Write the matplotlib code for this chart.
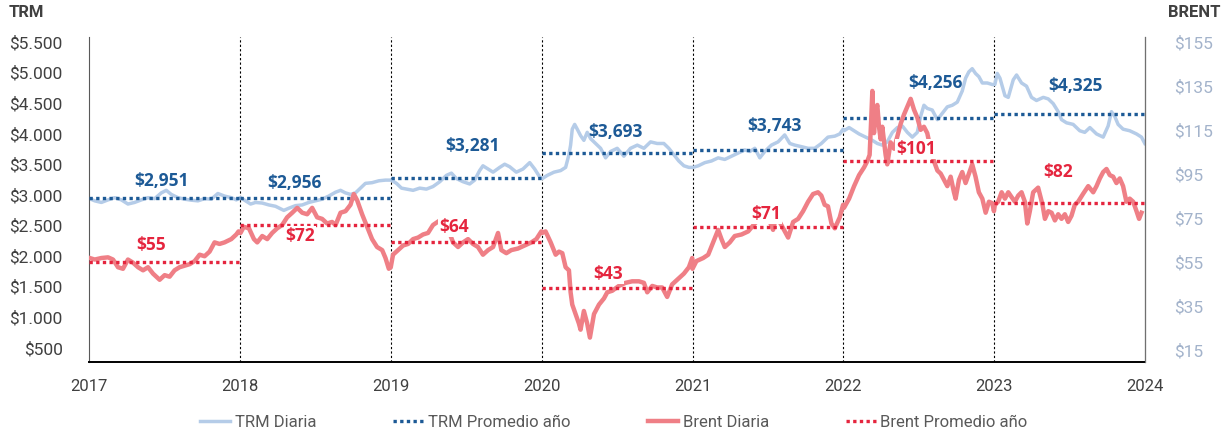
import matplotlib
matplotlib.use("Agg")
import matplotlib.pyplot as plt
from matplotlib.lines import Line2D

# TRM diaria (COP por USD), fecha en año decimal
trm_x = [
    2017.004, 2017.038, 2017.082, 2017.126, 2017.170, 2017.214, 2017.258, 2017.302,
    2017.347, 2017.391, 2017.435, 2017.479, 2017.512, 2017.545, 2017.589, 2017.634,
    2017.678, 2017.722, 2017.766, 2017.810, 2017.854, 2017.898, 2017.943, 2017.976,
    2018.004, 2018.038, 2018.071, 2018.104, 2018.148, 2018.192, 2018.236, 2018.269,
    2018.291, 2018.325, 2018.369, 2018.413, 2018.457, 2018.501, 2018.545, 2018.589,
    2018.634, 2018.667, 2018.700, 2018.733, 2018.766, 2018.799, 2018.832, 2018.876,
    2018.921, 2018.965,
    2019.004, 2019.038, 2019.071, 2019.104, 2019.148, 2019.192, 2019.236, 2019.280,
    2019.325, 2019.369, 2019.402, 2019.435, 2019.479, 2019.523, 2019.556, 2019.589,
    2019.611, 2019.645, 2019.678, 2019.722, 2019.755, 2019.788, 2019.832, 2019.876,
    2019.921, 2019.954, 2019.987,
    2020.004, 2020.038, 2020.082, 2020.126, 2020.159, 2020.181, 2020.192, 2020.203,
    2020.219, 2020.236, 2020.258, 2020.280, 2020.302, 2020.325, 2020.358, 2020.391,
    2020.424, 2020.457, 2020.501, 2020.545, 2020.589, 2020.634, 2020.678, 2020.722,
    2020.766, 2020.810, 2020.843, 2020.876, 2020.909, 2020.943, 2020.976, 2020.998,
    2021.004, 2021.038, 2021.082, 2021.126, 2021.170, 2021.214, 2021.258, 2021.302,
    2021.347, 2021.380, 2021.413, 2021.446, 2021.479, 2021.523, 2021.567, 2021.611,
    2021.645, 2021.678, 2021.722, 2021.766, 2021.810, 2021.854, 2021.898, 2021.943,
    2021.976, 2021.998,
    2022.004, 2022.038, 2022.071, 2022.104, 2022.148, 2022.192, 2022.225, 2022.258,
    2022.291, 2022.325, 2022.358, 2022.391, 2022.424, 2022.457, 2022.490, 2022.512,
    2022.534, 2022.556, 2022.589, 2022.623, 2022.656, 2022.689, 2022.722, 2022.755,
    2022.788, 2022.810, 2022.832, 2022.854, 2022.876, 2022.898, 2022.921, 2022.954,
    2022.987,
    2023.004, 2023.020, 2023.038, 2023.071, 2023.093, 2023.126, 2023.148, 2023.181,
    2023.214, 2023.247, 2023.280, 2023.325, 2023.358, 2023.391, 2023.424, 2023.446,
    2023.479, 2023.523, 2023.567, 2023.600, 2023.634, 2023.678, 2023.722, 2023.755,
    2023.777, 2023.799, 2023.821, 2023.854, 2023.898, 2023.943, 2023.976, 2023.998,
]
trm_y = [
    2940, 2904, 2878, 2920, 2956, 2920, 2852, 2878,
    2920, 2956, 2940, 3034, 3076, 3009, 2956, 2931,
    2915, 2904, 2940, 2931, 3024, 2982, 2956, 2920,
    2956, 2904, 2852, 2878, 2868, 2837, 2815, 2774,
    2748, 2784, 2826, 2837, 2878, 2904, 2931, 2982,
    3045, 3076, 3034, 3009, 3034, 3112, 3190, 3201,
    3232, 3243,
    3243, 3190, 3112, 3096, 3076, 3112, 3096, 3138,
    3217, 3321, 3357, 3268, 3217, 3180, 3243, 3399,
    3477, 3424, 3373, 3451, 3503, 3462, 3373, 3424,
    3529, 3424, 3295,
    3268, 3321, 3373, 3399, 3451, 3659, 3815, 4076,
    4154, 4076, 3971, 3893, 4024, 3920, 3842, 3763,
    3607, 3711, 3763, 3634, 3763, 3815, 3763, 3868,
    3842, 3842, 3763, 3659, 3556, 3477, 3451, 3451,
    3451, 3477, 3529, 3556, 3607, 3581, 3634, 3685,
    3737, 3711, 3763, 3607, 3711, 3815, 3868, 3982,
    3842, 3815, 3790, 3763, 3763, 3842, 3946, 3962,
    3998, 4076,
    4050, 4102, 4050, 3998, 3946, 3893, 3842, 3815,
    3868, 4024, 4102, 4128, 4024, 3946, 4024, 4284,
    4467, 4415, 4389, 4232, 4337, 4441, 4467, 4518,
    4701, 4909, 5014, 5065, 4987, 4935, 4831, 4831,
    4806,
    4806, 4987, 4909, 4623, 4596, 4883, 4962, 4831,
    4779, 4596, 4545, 4596, 4571, 4493, 4362, 4232,
    4180, 4154, 4050, 4024, 4102, 3998, 3946, 4128,
    4362, 4284, 4154, 4076, 4050, 3998, 3946, 3842,
]

# Brent diario (USD por barril)
brent_x = [
    2017.004, 2017.038, 2017.082, 2017.126, 2017.159, 2017.192, 2017.225, 2017.258,
    2017.291, 2017.325, 2017.358, 2017.391, 2017.424, 2017.468, 2017.501, 2017.534,
    2017.567, 2017.600, 2017.634, 2017.667, 2017.700, 2017.733, 2017.766, 2017.799,
    2017.832, 2017.865, 2017.898, 2017.943, 2017.976, 2017.991,
    2018.004, 2018.026, 2018.060, 2018.093, 2018.115, 2018.148, 2018.181, 2018.214,
    2018.247, 2018.280, 2018.313, 2018.347, 2018.380, 2018.413, 2018.446, 2018.479,
    2018.512, 2018.545, 2018.578, 2018.611, 2018.634, 2018.667, 2018.700, 2018.733,
    2018.755, 2018.777, 2018.810, 2018.843, 2018.876, 2018.909, 2018.943, 2018.965,
    2018.987,
    2019.000, 2019.015, 2019.049, 2019.082, 2019.115, 2019.148, 2019.181, 2019.214,
    2019.247, 2019.280, 2019.325, 2019.369, 2019.413, 2019.446, 2019.479, 2019.512,
    2019.545, 2019.578, 2019.611, 2019.645, 2019.678, 2019.711, 2019.733, 2019.766,
    2019.799, 2019.843, 2019.887, 2019.932, 2019.965, 2019.998,
    2020.004, 2020.026, 2020.060, 2020.093, 2020.115, 2020.137, 2020.159, 2020.181,
    2020.192, 2020.203, 2020.225, 2020.247, 2020.258, 2020.280, 2020.302, 2020.320,
    2020.347, 2020.380, 2020.413, 2020.435, 2020.468, 2020.512, 2020.556, 2020.600,
    2020.645, 2020.678, 2020.700, 2020.733, 2020.766, 2020.799, 2020.832, 2020.865,
    2020.898, 2020.943, 2020.976, 2020.998,
    2021.000, 2021.026, 2021.071, 2021.104, 2021.137, 2021.170, 2021.192, 2021.214,
    2021.247, 2021.280, 2021.325, 2021.369, 2021.413, 2021.446, 2021.468, 2021.501,
    2021.534, 2021.556, 2021.589, 2021.634, 2021.667, 2021.700, 2021.733, 2021.766,
    2021.799, 2021.832, 2021.854, 2021.876, 2021.898, 2021.921, 2021.943, 2021.976,
    2021.998,
    2022.004, 2022.038, 2022.071, 2022.104, 2022.137, 2022.159, 2022.174, 2022.185,
    2022.192, 2022.203, 2022.214, 2022.225, 2022.236, 2022.247, 2022.258, 2022.280,
    2022.291, 2022.313, 2022.336, 2022.358, 2022.380, 2022.402, 2022.424, 2022.446,
    2022.468, 2022.490, 2022.512, 2022.534, 2022.556, 2022.578, 2022.600, 2022.623,
    2022.645, 2022.667, 2022.689, 2022.711, 2022.733, 2022.744, 2022.766, 2022.788,
    2022.810, 2022.832, 2022.854, 2022.876, 2022.898, 2022.921, 2022.943, 2022.965,
    2022.987, 2022.998,
    2023.004, 2023.026, 2023.049, 2023.071, 2023.093, 2023.115, 2023.137, 2023.159,
    2023.181, 2023.203, 2023.219, 2023.236, 2023.258, 2023.291, 2023.320, 2023.336,
    2023.358, 2023.380, 2023.402, 2023.424, 2023.446, 2023.468, 2023.490, 2023.512,
    2023.534, 2023.556, 2023.589, 2023.623, 2023.656, 2023.678, 2023.700, 2023.722,
    2023.744, 2023.766, 2023.788, 2023.810, 2023.832, 2023.854, 2023.876, 2023.898,
    2023.921, 2023.943, 2023.960, 2023.976,
]
brent_y = [
    56.8, 56.1, 56.8, 57.1, 56.1, 52.6, 51.9, 56.1,
    54.7, 52.6, 51.2, 52.6, 49.7, 46.9, 49.0, 48.3,
    51.2, 52.6, 53.3, 54.0, 55.4, 58.3, 57.6, 59.7,
    63.9, 63.2, 63.9, 65.4, 67.5, 68.9,
    68.2, 71.0, 70.3, 65.4, 63.9, 66.8, 65.4, 68.2,
    70.3, 71.8, 75.3, 77.4, 79.6, 77.4, 76.7, 79.6,
    75.3, 74.6, 72.5, 73.2, 71.8, 77.4, 78.1, 81.0,
    85.9, 83.1, 76.7, 71.0, 65.4, 61.8, 60.4, 56.8,
    51.9,
    52.6, 58.3, 60.4, 62.5, 63.2, 65.4, 66.1, 67.5,
    68.2, 71.8, 73.9, 71.8, 63.9, 61.8, 63.9, 65.4,
    63.2, 61.8, 58.3, 60.4, 61.8, 68.2, 60.4, 59.0,
    60.4, 61.1, 62.5, 63.9, 65.4, 68.9,
    68.2, 68.9, 63.9, 58.3, 59.7, 59.0, 52.6, 51.2,
    41.2, 35.6, 31.3, 27.0, 24.2, 32.7, 27.0, 20.6,
    31.3, 35.6, 38.4, 41.2, 41.9, 44.1, 45.5, 46.2,
    46.2, 45.5, 41.2, 44.1, 43.4, 43.4, 39.1, 44.8,
    46.9, 49.7, 52.6, 56.8,
    51.9, 55.4, 56.8, 58.3, 63.9, 69.6, 65.4, 61.8,
    63.9, 66.8, 67.5, 68.9, 72.5, 74.6, 76.0, 75.3,
    69.6, 76.0, 71.8, 66.1, 73.2, 74.6, 78.1, 82.4,
    85.9, 86.7, 85.2, 81.0, 80.3, 72.5, 70.3, 75.3,
    81.0,
    79.6, 83.8, 89.5, 94.5, 98.0, 100.9, 103.7, 120.7,
    132.8, 113.6, 123.6, 126.4, 116.5, 110.8, 116.5, 103.7,
    99.4, 109.4, 106.5, 112.2, 117.9, 122.1, 125.7, 129.2,
    124.3, 120.7, 115.1, 116.5, 113.6, 106.5, 100.9, 96.6,
    95.2, 92.3, 89.5, 93.8, 86.7, 83.8, 92.3, 95.9,
    90.9, 95.2, 99.4, 93.8, 86.7, 83.8, 77.4, 82.4,
    81.7, 78.1,
    81.0, 82.4, 86.7, 83.8, 86.7, 84.5, 82.4, 85.2,
    86.7, 82.4, 72.5, 78.1, 86.7, 88.8, 81.0, 74.6,
    78.1, 77.4, 73.9, 76.7, 74.6, 76.7, 73.2, 76.0,
    81.0, 82.4, 86.0, 89.5, 86.7, 89.5, 93.0, 95.9,
    97.3, 94.5, 93.8, 90.9, 93.0, 89.5, 82.4, 83.8,
    82.4, 78.1, 74.6, 77.4,
]

# Promedios anuales
years = [2017, 2018, 2019, 2020, 2021, 2022, 2023]
trm_avg = [2951, 2956, 3281, 3693, 3743, 4256, 4325]
brent_avg = [55, 72, 64, 43, 71, 101, 82]

trm_ticks = [500, 1000, 1500, 2000, 2500, 3000, 3500, 4000, 4500, 5000, 5500]
brent_ticks = [15, 35, 55, 75, 95, 115, 135, 155]

# colores
c_trm = "#b5cce8"
c_trm_avg = "#1d5a96"
c_brent = "#ef7f86"
c_brent_avg = "#e5253e"
c_text = "#404040"

# posicion de las etiquetas (fraccion del año, desplazamiento vertical en px)
trm_lab = [(0.48, 17), (0.36, 15), (0.54, 32), (0.49, 21), (0.54, 24), (0.61, 35), (0.54, 28)]
brent_lab = [(0.41, 17), (0.40, -11), (0.42, 15), (0.44, 14), (0.49, 13), (0.48, 12), (0.42, 31)]

plt.rcParams["font.family"] = ["Roboto", "DejaVu Sans"]
narrow = ["Liberation Sans Narrow", "Roboto", "DejaVu Sans"]

fig = plt.figure(figsize=(12.28, 4.36), dpi=100)
ax = fig.add_axes([0.0725, 0.170, 0.860, 0.745])
ax2 = ax.twinx()

ax.plot(trm_x, trm_y, color=c_trm, lw=2.5, zorder=2, solid_joinstyle="round")
ax2.plot(brent_x, brent_y, color=c_brent, lw=3.2, zorder=2, solid_joinstyle="round")

for i, yr in enumerate(years):
    ax.plot([yr, yr + 1], [trm_avg[i], trm_avg[i]], color=c_trm_avg, lw=2.4,
            ls=(0, (1, 1)), dash_capstyle="butt", zorder=4)
    ax2.plot([yr, yr + 1], [brent_avg[i], brent_avg[i]], color=c_brent_avg, lw=2.4,
             ls=(0, (1, 1)), dash_capstyle="butt", zorder=4)
    fx, dy = trm_lab[i]
    ax.annotate("${:,}".format(trm_avg[i]), xy=(yr + fx, trm_avg[i]), xytext=(0, dy),
                textcoords="offset pixels", ha="center", va="center",
                fontsize=12.5, fontweight="bold", color=c_trm_avg,
                family=["Open Sans", "DejaVu Sans"], zorder=6)
    fx, dy = brent_lab[i]
    ax2.annotate("${}".format(brent_avg[i]), xy=(yr + fx, brent_avg[i]), xytext=(0, dy),
                 textcoords="offset pixels", ha="center", va="center",
                 fontsize=12.5, fontweight="bold", color=c_brent_avg,
                 family=["Open Sans", "DejaVu Sans"], zorder=6,
                 bbox=dict(boxstyle="square,pad=0.05", fc="white", ec="none"))

# separadores de año
for yr in years[1:]:
    ax.axvline(yr, color="black", lw=0.8, ls=(0, (2, 2)), zorder=1)

ax.set_xlim(2017, 2024)
ax.set_ylim(271, 5582)
ax2.set_ylim(9.55, 157.3)

ax.set_xticks(range(2017, 2025))
ax.set_xticklabels([str(y) for y in range(2017, 2025)], family=narrow,
                   fontsize=12, color=c_text)
ax.tick_params(axis="x", length=0, pad=12)

ax.set_yticks(trm_ticks)
ax.set_yticklabels(["${:,}".format(v).replace(",", ".") for v in trm_ticks],
                   fontsize=12.5, color=c_text)
ax.tick_params(axis="y", length=0, pad=19)

ax2.set_yticks(brent_ticks)
ax2.set_yticklabels(["${}".format(v) for v in brent_ticks], fontsize=12.5, color="#a3b3cb")
ax2.tick_params(axis="y", length=0, pad=21)

for a in (ax, ax2):
    a.spines["top"].set_visible(False)
ax.spines["left"].set_color("#595959")
ax.spines["bottom"].set_color("black")
ax.spines["bottom"].set_linewidth(1.4)
ax2.spines["right"].set_color("#707070")
ax2.spines["left"].set_visible(False)
ax2.spines["bottom"].set_visible(False)

fig.text(0.007, 0.972, "TRM", fontsize=12, fontweight="bold", color=c_text,
         ha="left", va="center")
fig.text(0.994, 0.972, "BRENT", fontsize=12, fontweight="bold", color=c_text,
         ha="right", va="center")

handles = [
    Line2D([], [], color=c_trm, lw=2.5),
    Line2D([], [], color=c_trm_avg, lw=2.4, ls=(0, (1, 1)), dash_capstyle="butt"),
    Line2D([], [], color=c_brent, lw=3.2),
    Line2D([], [], color=c_brent_avg, lw=2.4, ls=(0, (1, 1)), dash_capstyle="butt"),
]
labels = ["TRM Diaria", "TRM Promedio año", "Brent Diaria", "Brent Promedio año"]
fig.legend(handles, labels, loc="center", bbox_to_anchor=(0.5, 0.032), ncol=4,
           frameon=False, handlelength=1.8, handletextpad=0.3, columnspacing=4.6,
           prop={"family": narrow, "size": 12}, labelcolor="#595959")

fig.savefig("out.png", dpi=100)
